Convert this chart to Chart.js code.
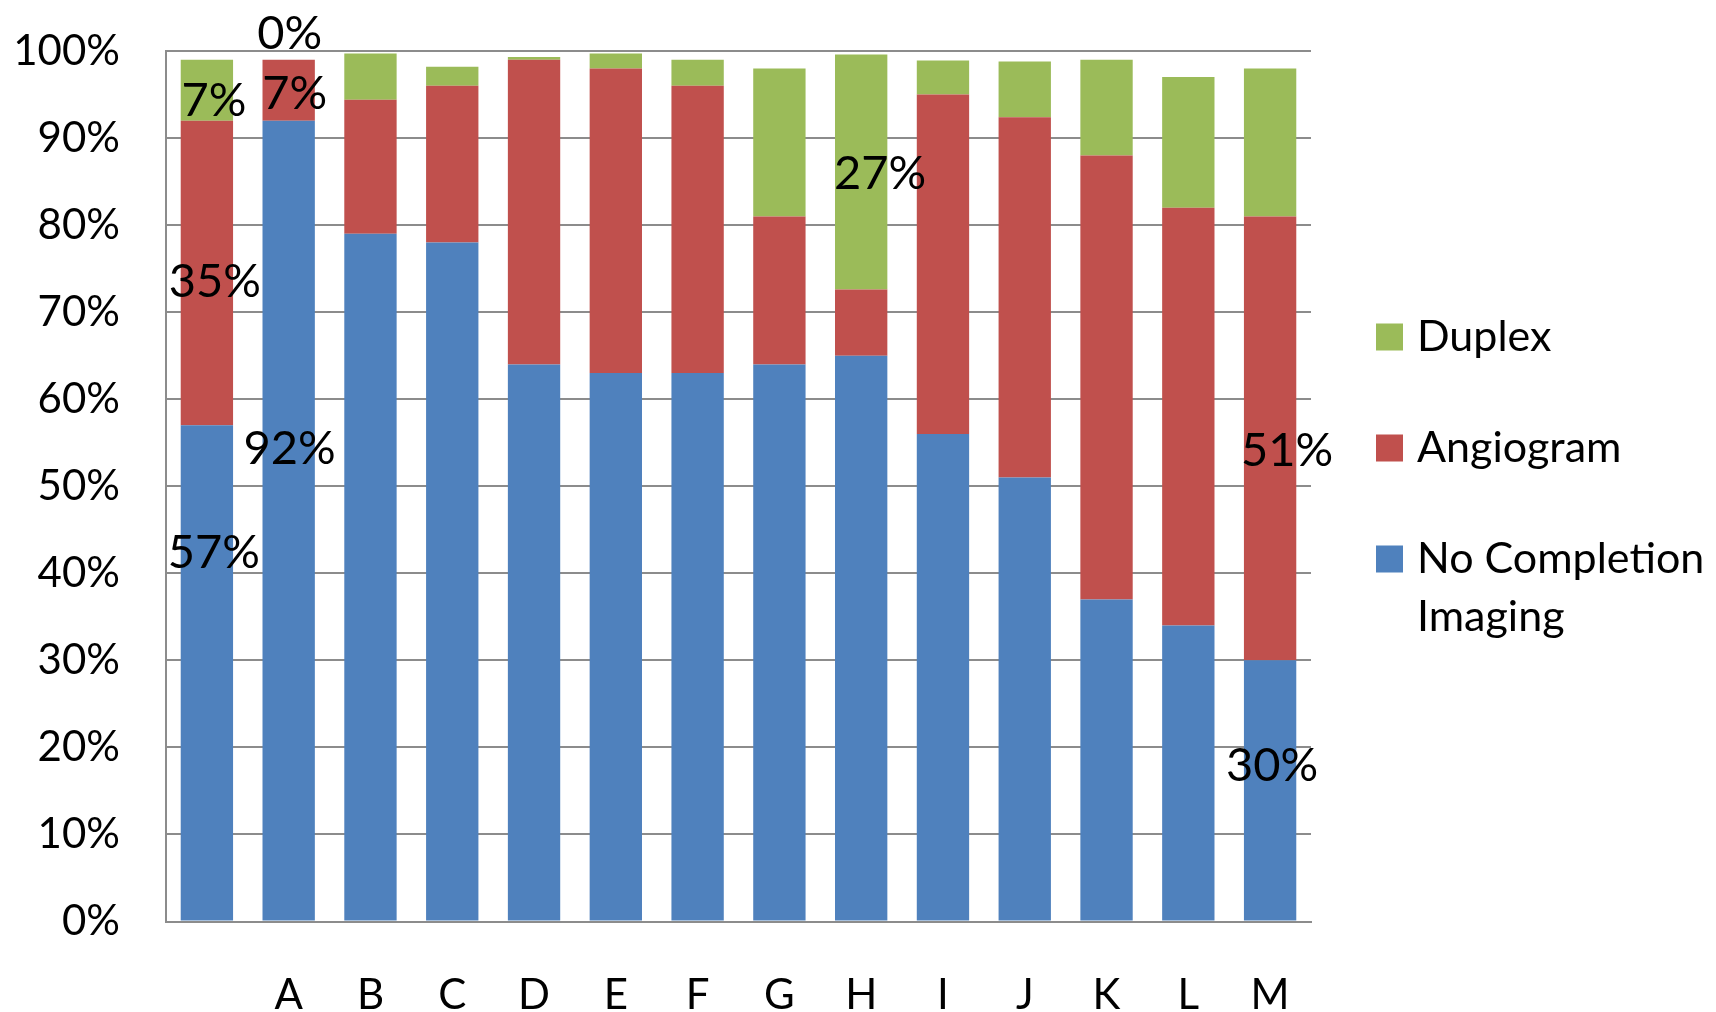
<!DOCTYPE html>
<html>
<head>
<meta charset="utf-8">
<title>Completion imaging by site</title>
<script src="https://cdn.jsdelivr.net/npm/chart.js@4/dist/chart.umd.min.js"></script>
<style>
  html, body { margin: 0; padding: 0; background: #ffffff; }
  #wrap { width: 1716px; height: 1012px; }
</style>
</head>
<body>
<div id="wrap"><canvas id="chart" width="1716" height="1012"></canvas></div>
<script>
// Sites (the first column is the pooled bar and has no letter)
const categories = ['', 'A', 'B', 'C', 'D', 'E', 'F', 'G', 'H', 'I', 'J', 'K', 'L', 'M'];

// Share of cases per imaging type, in percent
const noCompletion = [57, 92, 79, 78, 64, 63, 63, 64, 65, 56, 51, 37, 34, 30];
const angiogram    = [35, 7, 15.4, 18, 35, 35, 33, 17, 7.6, 39, 41.4, 51, 48, 51];
const duplex       = [7, 0, 5.3, 2.2, 0.3, 1.7, 3, 17, 27, 3.9, 6.4, 11, 15, 17];

const seriesNames = ['No Completion Imaging', 'Angiogram', 'Duplex'];
const yTickLabels = ['0%', '10%', '20%', '30%', '40%', '50%', '60%', '70%', '80%', '90%', '100%'];

// Which segments carry a value label: [series, category]
const labelledSegments = [
  [0, 0], [1, 0], [2, 0],
  [0, 1], [1, 1], [2, 1],
  [2, 8],
  [1, 13], [0, 13]
];

// Nudges (px) applied to those labels from their segment centre
const labelNudges = [
  [7, -120], [8, 9], [7, 11],
  [1, -72], [6, 4], [1, -26],
  [19, 2],
  [17, 12], [2, -25]
];

const FONT = 'Lato, "Open Sans", sans-serif';
const FONT_SIZE = 42;
const LABEL_SIZE = 47;
const GRID = '#8c8c8c';
const COLORS = ['#4f81bd', '#c0504d', '#9bbb59'];

const valueLabels = {
  id: 'valueLabels',
  afterDatasetsDraw(chart) {
    const ctx = chart.ctx;
    ctx.save();
    ctx.font = `${LABEL_SIZE}px ${FONT}`;
    ctx.fillStyle = '#000000';
    ctx.textAlign = 'center';
    ctx.textBaseline = 'middle';
    labelledSegments.forEach(([ds, idx], k) => {
      const el = chart.getDatasetMeta(ds).data[idx];
      const p = el.getProps(['x', 'y', 'base'], true);
      const value = chart.data.datasets[ds].data[idx];
      const [dx, dy] = labelNudges[k];
      ctx.fillText(`${value}%`, p.x + dx, (p.y + p.base) / 2 + dy);
    });
    ctx.restore();
  }
};

const sideLegend = {
  id: 'sideLegend',
  afterDraw(chart) {
    const ctx = chart.ctx;
    const area = chart.chartArea;
    const boxX = area.right + 65;
    const textX = boxX + 41;
    const maxW = chart.width - textX - 2;
    const box = 27;
    const lineH = 58;
    let y = 337;
    ctx.save();
    ctx.font = `43px ${FONT}`;
    ctx.textAlign = 'left';
    ctx.textBaseline = 'middle';
    const sets = chart.data.datasets.slice().reverse();
    sets.forEach(ds => {
      ctx.fillStyle = ds.backgroundColor;
      ctx.fillRect(boxX, y - box / 2, box, box);
      // wrap words that do not fit beside the swatch
      const words = ds.label.split(' ');
      const lines = [];
      let line = '';
      words.forEach(w => {
        const test = line ? line + ' ' + w : w;
        if (ctx.measureText(test).width > maxW && line) { lines.push(line); line = w; }
        else line = test;
      });
      lines.push(line);
      ctx.fillStyle = '#000000';
      lines.forEach((l, i) => ctx.fillText(l, textX, y + i * lineH));
      y += 111;
    });
    ctx.restore();
  }
};

new Chart(document.getElementById('chart'), {
  type: 'bar',
  data: {
    labels: categories,
    datasets: [
      { label: seriesNames[0], data: noCompletion, backgroundColor: COLORS[0] },
      { label: seriesNames[1], data: angiogram, backgroundColor: COLORS[1] },
      { label: seriesNames[2], data: duplex, backgroundColor: COLORS[2] }
    ]
  },
  options: {
    responsive: false,
    animation: false,
    devicePixelRatio: 1,
    layout: { padding: { left: 0, top: 51, right: 405, bottom: 0 } },
    datasets: { bar: { barPercentage: 0.64, categoryPercentage: 1, borderWidth: 0 } },
    plugins: { legend: { display: false }, tooltip: { enabled: false } },
    scales: {
      x: {
        stacked: true,
        grid: { display: false, drawTicks: false },
        border: { display: true, color: GRID, width: 2 },
        ticks: { color: '#000000', font: { family: FONT, size: FONT_SIZE }, padding: 49, maxRotation: 0, autoSkip: false },
        afterFit(scale) { scale.height = 90.5; }
      },
      y: {
        stacked: true,
        min: 0,
        max: 100,
        // invisible tick marks keep the labels clear of the axis line
        grid: { color: GRID, lineWidth: 2, drawTicks: true, tickLength: 46, tickColor: 'rgba(0,0,0,0)' },
        border: { display: true, color: GRID, width: 2 },
        ticks: {
          stepSize: 10,
          color: '#000000',
          font: { family: FONT, size: FONT_SIZE },
          padding: 0,
          callback: (v) => yTickLabels[Math.round(v / 10)]
        },
        afterFit(scale) { scale.width = 166; }
      }
    }
  },
  plugins: [valueLabels, sideLegend]
});
</script>
</body>
</html>
